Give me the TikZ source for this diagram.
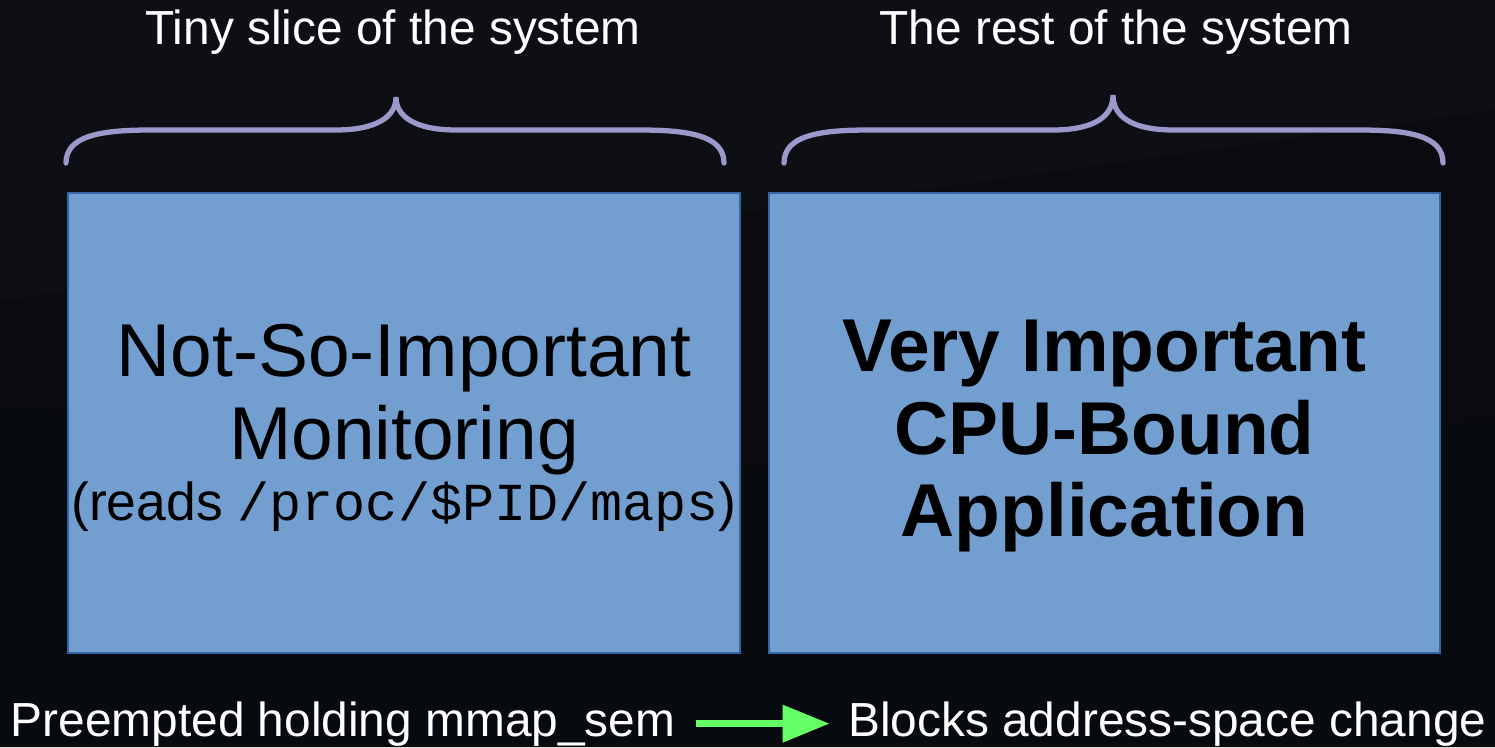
\documentclass[tikz,border=0pt]{standalone}
\usepackage{fontspec}
\setmainfont{Liberation Sans}
\setmonofont{Liberation Mono}
\usetikzlibrary{arrows.meta,positioning}

\definecolor{slidebg}{HTML}{0A0A0F}
\definecolor{slidebgtop}{HTML}{0D0F14}
\definecolor{slidebglow}{HTML}{070B10}
\definecolor{boxblue}{HTML}{729FCF}
\definecolor{boxedge}{HTML}{3465A4}
\definecolor{bracecol}{RGB}{155,152,204}
\definecolor{arrowgreen}{HTML}{66FF66}

\tikzset{
  taskbox/.style={draw=boxedge, line width=0.6pt, fill=boxblue,
    minimum height=4.6cm, inner sep=0pt},
  boxtext/.style={align=center, text=black, inner sep=0pt,
    font=\fontsize{21.3}{23.6}\selectfont},
  bracket/.style={draw=bracecol, line width=1.5pt, line cap=round},
  caption/.style={text=white, font=\fontsize{13.6}{15}\selectfont, inner sep=0pt},
}

\begin{document}
\begin{tikzpicture}[x=0.01cm, y=-0.01cm]
	% background
	\fill[slidebg] (0,0) rectangle (1495,747);
	\fill[slidebgtop] (0,0) -- (1495,0) -- (1495,110) -- (920,190) -- (0,300) -- cycle;
	\fill[slidebglow] (0,407) -- (770,470) -- (1495,420) -- (1495,747) -- (0,747) -- cycle;
	\useasboundingbox (0,0) rectangle (1495,747);

	% the two boxes
	\node[taskbox, minimum width=6.72cm] (mon) at (404,423) {};
	\node[taskbox, minimum width=6.71cm] (app) at (1104.5,423) {};

	\node[boxtext] (montext) at ([yshift=-1.4pt]mon.center)
		{Not-So-Important\\
		 Monitoring\\[-6pt]
		 {\fontsize{15.2}{17}\selectfont (reads \texttt{/proc/\$PID/maps})}};
	\node[boxtext, font=\fontsize{21.3}{23.4}\selectfont\bfseries] (apptext) at ([yshift=-3.7pt]app.center)
		{Very Important\\
		 CPU-Bound\\
		 Application};

	% braces over the boxes
	\draw[bracket] (66,163) .. controls (66,136) and (100,130) .. (150,130) -- (335,130)
		.. controls (378,130) and (396,116) .. (396,97)
		.. controls (396,116) and (414,130) .. (457,130) -- (640,130)
		.. controls (690,130) and (724,136) .. (724,163);
	\draw[bracket] (784,163) .. controls (784,136) and (818,130) .. (868,130) -- (1052,130)
		.. controls (1095,130) and (1113,116) .. (1113,95)
		.. controls (1113,116) and (1131,130) .. (1174,130) -- (1360,130)
		.. controls (1410,130) and (1443,136) .. (1443,163);

	\node[caption, anchor=base] (slice) at (393,44) {Tiny slice of the system};
	\node[caption, anchor=base] (rest) at (1116,44) {The rest of the system};

	% what happens underneath
	\node[caption, anchor=base west] (held) at (10,736) {Preempted holding mmap\_sem};
	\node[caption, anchor=base east] (blocks) at (1487,736) {Blocks address-space change};
	\draw[arrowgreen, line width=2pt, -{Triangle[length=0.47cm, width=0.36cm]},
		shorten <=0.2cm, shorten >=0.18cm]
		(held.east) -- (blocks.west);
\end{tikzpicture}
\end{document}
